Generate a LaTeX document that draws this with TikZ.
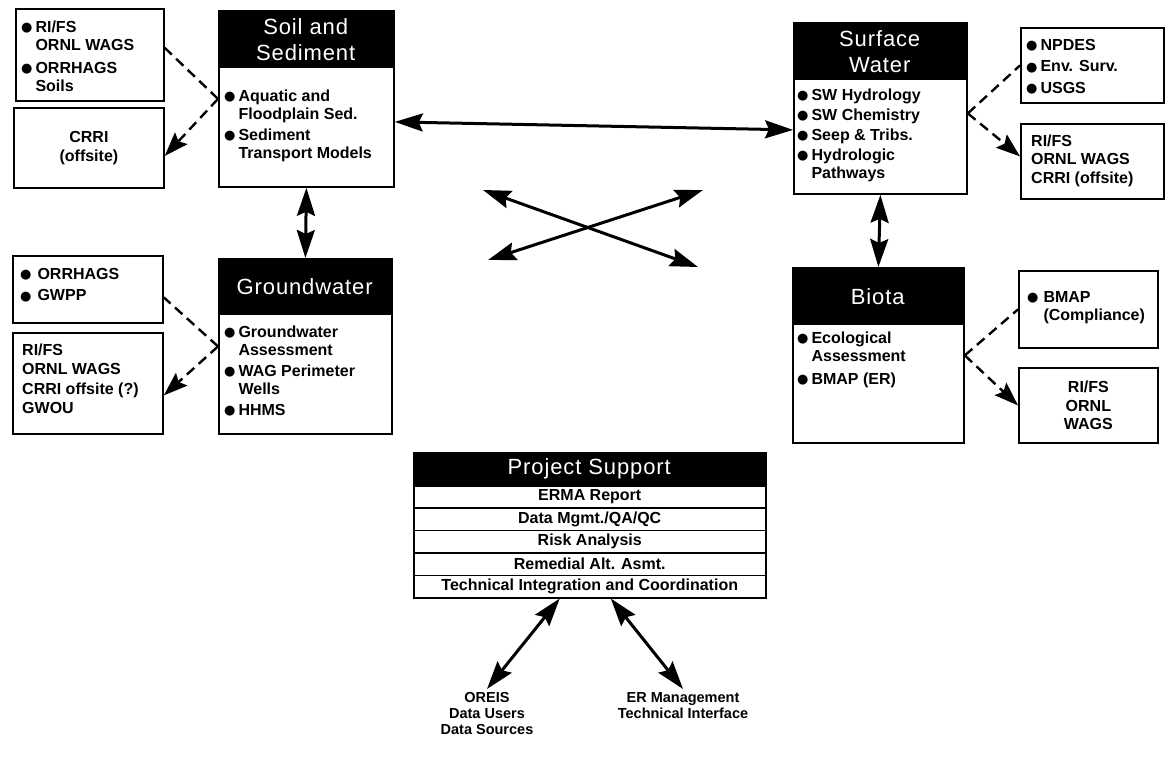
\documentclass[tikz,border=0pt]{standalone}
\usepackage{fontspec}
\setmainfont{Liberation Sans}
\newfontfamily\dejavu{DejaVu Sans}
\newfontfamily\hfont[LetterSpace=4]{Liberation Sans}
\usetikzlibrary{arrows.meta,calc}
\newcommand\bul{\raisebox{0.5pt}{\dejavu\fontsize{13}{13}\selectfont ●}}
\newcommand\bt{\fontsize{16}{18.5}\selectfont\bfseries}
\begin{document}
\begin{tikzpicture}[x=1pt,y=-1pt,
 box/.style={draw=black,line width=1.8pt,fill=white,anchor=north west,inner sep=0pt},
 hdr/.style={fill=black,text=white,anchor=north west,inner sep=0pt,align=center,font=\hfont\fontsize{22}{26}\selectfont},
 body/.style={anchor=north west,inner sep=0pt,align=left,font=\bt},
 ctext/.style={inner sep=0pt,align=center,font=\bt},
 rowbox/.style={draw=black,line width=1.5pt,fill=white,anchor=north west,inner sep=0pt,minimum width=352,font=\fontsize{16}{18}\selectfont\bfseries},
 dsh/.style={line width=2.4pt,dash pattern=on 10pt off 6pt},
 dar/.style={dsh,-{Stealth[length=24pt,width=17pt,inset=4pt]}},
 dbl/.style={line width=3pt,{Stealth[length=28pt,width=18pt,inset=4pt]}-{Stealth[length=28pt,width=18pt,inset=4pt]}},
]
\useasboundingbox[fill=white] (0,0) rectangle (1165,770);

% Soil and Sediment
\node[box,minimum width=175,minimum height=176] (soil) at (218,10) {};
\node[hdr,minimum width=175,minimum height=58] (soilh) at (218,10) {Soil and\\Sediment};
\node[body] (soilb) at (224,88) {\begin{tabular}{@{}l@{\hspace{3pt}}l@{}}\bul & Aquatic and\\ & Floodplain Sed.\\[2pt] \bul & Sediment\\ & Transport Models\end{tabular}};

% left boxes of soil
\node[box,minimum width=148,minimum height=92] (a1) at (15,8) {};
\node[body] (a1t) at (21,19) {\begin{tabular}{@{}l@{\hspace{3pt}}l@{}}\bul & RI/FS\\ & ORNL WAGS\\[4pt] \bul & ORRHAGS\\ & Soils\end{tabular}};
\node[box,minimum width=150,minimum height=80] (a2) at (13,107) {};
\node[ctext] (a2t) at (a2.center) {CRRI\\(offsite)};

% Surface Water
\node[box,minimum width=173,minimum height=171] (sw) at (793,22) {};
\node[hdr,minimum width=173,minimum height=58] (swh) at (793,22) {Surface\\Water};
\node[body] (swb) at (797,87) {\begin{tabular}{@{}l@{\hspace{3pt}}l@{}}\bul & SW Hydrology\\[1.5pt] \bul & SW Chemistry\\[1.5pt] \bul & Seep \& Tribs.\\[1.5pt] \bul & Hydrologic\\ & Pathways\end{tabular}};

\node[box,minimum width=143,minimum height=75] (b1) at (1020,27) {};
\node[body] (b1t) at (1026,37) {\begin{tabular}{@{}l@{\hspace{3pt}}l@{}}\bul & NPDES\\[3pt] \bul & Env. Surv.\\[3pt] \bul & USGS\end{tabular}};
\node[box,minimum width=143,minimum height=75] (b2) at (1020,123) {};
\node[body] (b2t) at (1031,133) {\begin{tabular}{@{}l@{}}RI/FS\\ ORNL WAGS\\ CRRI (offsite)\end{tabular}};

% Groundwater
\node[box,minimum width=173,minimum height=175] (gw) at (218,258) {};
\node[hdr,minimum width=173,minimum height=57] (gwh) at (218,258) {Groundwater};
\node[body] (gwb) at (224,324) {\begin{tabular}{@{}l@{\hspace{3pt}}l@{}}\bul & Groundwater\\ & Assessment\\[2pt] \bul & WAG Perimeter\\ & Wells\\[2pt] \bul & HHMS\end{tabular}};

\node[box,minimum width=150,minimum height=67] (c1) at (12,255) {};
\node[body] (c1t) at (20,266) {\begin{tabular}{@{}l@{\hspace{6pt}}l@{}}\bul & ORRHAGS\\[3pt] \bul & GWPP\end{tabular}};
\node[box,minimum width=150,minimum height=101] (c2) at (12,332) {};
\node[body] (c2t) at (22,342) {\begin{tabular}{@{}l@{}}RI/FS\\[1pt] ORNL WAGS\\[1pt] CRRI offsite (?)\\[1pt] GWOU\end{tabular}};

% Biota
\node[box,minimum width=171,minimum height=175] (bio) at (792,267) {};
\node[hdr,minimum width=171,minimum height=58] (bioh) at (792,267) {Biota};
\node[body] (biob) at (797,330) {\begin{tabular}{@{}l@{\hspace{3pt}}l@{}}\bul & Ecological\\ & Assessment\\[4pt] \bul & BMAP (ER)\end{tabular}};

\node[box,minimum width=139,minimum height=77] (d1) at (1018,270) {};
\node[body] (d1t) at (1027,289) {\begin{tabular}{@{}l@{\hspace{5pt}}l@{}}\bul & BMAP\\ & (Compliance)\end{tabular}};
\node[box,minimum width=139,minimum height=75] (d2) at (1018,367) {};
\node[ctext] (d2t) at (d2.center) {RI/FS\\ORNL\\WAGS};

% Project Support
\node[box,minimum width=352,minimum height=145] (ps) at (413,452) {};
\node[hdr,minimum width=352,minimum height=33] (psh) at (413,452) {Project Support};
\node[rowbox,minimum height=22.4] (r1) at (413,485) {ERMA Report};
\node[rowbox,minimum height=22.4] (r2) at (413,507.4) {Data Mgmt./QA/QC};
\node[rowbox,minimum height=22.4] (r3) at (413,529.8) {Risk Analysis};
\node[rowbox,minimum height=22.4] (r4) at (413,552.2) {Remedial Alt. Asmt.};
\node[rowbox,minimum height=22.4] (r5) at (413,574.6) {Technical Integration and Coordination};

\node[inner sep=0pt,align=center,anchor=north,font=\fontsize{14.5}{16}\selectfont\bfseries] (oreis) at (487,692) {OREIS\\Data Users\\Data Sources};
\node[inner sep=0pt,align=center,anchor=north,font=\fontsize{14.5}{16}\selectfont\bfseries] (erm) at (683,692) {ER Management\\Technical Interface};

% connectors
\draw[dbl] ([yshift=-23pt]soil.east) -- ([yshift=-21.5pt]sw.west);
\draw[dbl] (soil.south) -- (gw.north);
\draw[dbl] (sw.south) -- (bio.north);
\coordinate (x1) at (483,190);
\coordinate (x2) at (698,267);
\coordinate (x3) at (488,260);
\coordinate (x4) at (703,190);
\draw[dbl] (x1) -- (x2);
\draw[dbl] (x3) -- (x4);
\draw[dbl] ([xshift=-30pt]r5.south) -- ([yshift=3pt]oreis.north);
\draw[dbl] ([xshift=21pt]r5.south) -- ([yshift=3pt]erm.north);

% dashed
\draw[dsh] (soil.west) -- ([yshift=7pt]a1.east);
\draw[dar] (soil.west) -- ([yshift=-8pt]a2.east);
\draw[dsh] ([yshift=-5pt]sw.east) -- (b1.west);
\draw[dar] ([yshift=-5pt]sw.east) -- ([yshift=5pt]b2.west);
\draw[dsh] (gw.west) -- ([yshift=-8pt]c1.east);
\draw[dar] (gw.west) -- ([yshift=-12pt]c2.east);
\draw[dsh] (bio.east) -- (d1.west);
\draw[dar] (bio.east) -- (d2.west);
\end{tikzpicture}
\end{document}
